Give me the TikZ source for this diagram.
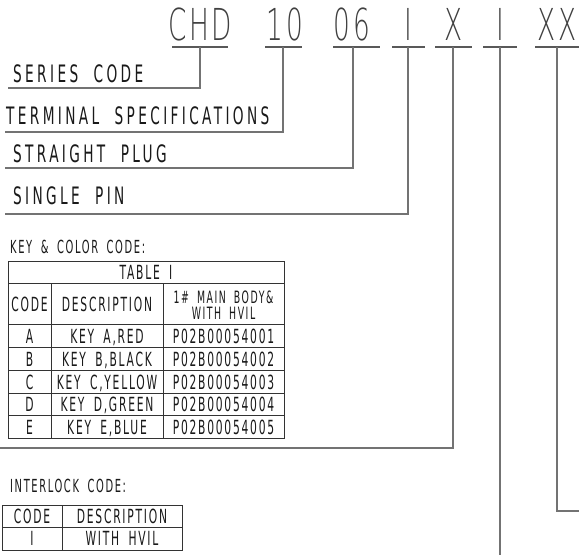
\documentclass[tikz,border=0pt]{standalone}
\usepackage{fontspec}
\newfontfamily\cadthin[FakeStretch=0.6,LetterSpace=6]{DejaVu Sans ExtraLight}
\newfontfamily\cadL[FakeStretch=0.57,LetterSpace=14,WordSpace=2]{DejaVu Sans}
\newfontfamily\cadT[FakeStretch=0.55,LetterSpace=9,WordSpace=1.8]{DejaVu Sans}
\begin{document}
\begin{tikzpicture}[x=1pt,y=-1pt,
  codetxt/.style={font=\cadthin\fontsize{44}{44}\selectfont, text=black!75, anchor=base, inner sep=0},
  lbl/.style={font=\cadL\fontsize{24}{24}\selectfont, text=black!90, anchor=base west, inner sep=0},
  cell/.style={font=\cadT\fontsize{19.5}{20}\selectfont, text=black!90, inner sep=0, anchor=base},
  hcell/.style={font=\cadT\fontsize{18}{18}\selectfont, text=black!90, inner sep=0, anchor=base west},
  leader/.style={draw=black!55, line width=1.2pt},
  uline/.style={draw=black!65, line width=1.2pt},
  grid/.style={draw=black!80, line width=0.9pt}]
\useasboundingbox (0,0) rectangle (579,555);
% code string
\node[codetxt] (c1) at (200,40) {CHD};
\node[codetxt] (c2) at (285,40) {10};
\node[codetxt] (c3) at (352,40) {06};
\node[codetxt] (c4) at (408,40) {I};
\node[codetxt] (c5) at (454,40) {X};
\node[codetxt] (c6) at (500,40) {I};
\node[codetxt] (c7) at (557,40) {XX};
% underlines
\draw[uline] (172,47) -- (228,47);
\draw[uline] (265,47) -- (302,47);
\draw[uline] (333,47) -- (380,47);
\draw[uline] (392,47) -- (425,47);
\draw[uline] (435,47) -- (472,47);
\draw[uline] (483,47) -- (517,47);
\draw[uline] (535,47) -- (579,47);
\coordinate (t1) at (200,47);
\coordinate (t2) at (283,47);
\coordinate (t3) at (353,47);
\coordinate (t4) at (408,47);
\coordinate (t5) at (453,47);
\coordinate (t6) at (500,47);
\coordinate (t7) at (557,47);
% labels
\node[lbl] (l1) at (13,82) {SERIES CODE};
\node[lbl] (l2) at (6,124) {TERMINAL SPECIFICATIONS};
\node[lbl] (l3) at (13,162) {STRAIGHT PLUG};
\node[lbl] (l4) at (13,204) {SINGLE PIN};
\coordinate (e1) at (8,88);
\coordinate (e2) at (5,132);
\coordinate (e3) at (5,168);
\coordinate (e4) at (5,214);
\coordinate (e5) at (0,448);
\coordinate (e6) at (500,555);
\coordinate (e7) at (579,511);
\draw[leader] (t1) |- (e1);
\draw[leader] (t2) |- (e2);
\draw[leader] (t3) |- (e3);
\draw[leader] (t4) |- (e4);
\draw[leader] (t5) |- (e5);
\draw[leader] (t6) -- (e6);
\draw[leader] (t7) |- (e7);
% key & color table
\node[hcell] (kc) at (10,253) {KEY \& COLOR CODE:};
\draw[grid] (8,261) rectangle (284,438);
\foreach \yy in {283,324,347,370,393,415} \draw[grid] (8,\yy) -- (284,\yy);
\draw[grid] (51,283) -- (51,438);
\draw[grid] (163,283) -- (163,438);
\node[cell] (th) at (146,279) {TABLE I};
\node[cell] (h1) at (29.5,311) {CODE};
\node[cell] (h2) at (107,311) {DESCRIPTION};
\node[cell, font=\cadT\fontsize{17}{17}\selectfont] (h3a) at (223.5,303.5) {1\# MAIN BODY\&};
\node[cell, font=\cadT\fontsize{17}{17}\selectfont] (h3b) at (223.5,319) {WITH HVIL};
\node[cell] (a1) at (29.5,343) {A};
\node[cell] (a2) at (107,343) {KEY A,RED};
\node[cell] (a3) at (223.5,343) {P02B00054001};
\node[cell] (b1) at (29.5,366) {B};
\node[cell] (b2) at (107,366) {KEY B,BLACK};
\node[cell] (b3) at (223.5,366) {P02B00054002};
\node[cell] (r1) at (29.5,389) {C};
\node[cell] (r2) at (107,389) {KEY C,YELLOW};
\node[cell] (r3) at (223.5,389) {P02B00054003};
\node[cell] (d1) at (29.5,411.5) {D};
\node[cell] (d2) at (107,411.5) {KEY D,GREEN};
\node[cell] (d3) at (223.5,411.5) {P02B00054004};
\node[cell] (f1) at (29.5,434) {E};
\node[cell] (f2) at (107,434) {KEY E,BLUE};
\node[cell] (f3) at (223.5,434) {P02B00054005};
% interlock table
\node[hcell] (ic) at (10,492) {INTERLOCK CODE:};
\draw[grid] (2,505) rectangle (182,550);
\draw[grid] (2,527) -- (182,527);
\draw[grid] (62,505) -- (62,550);
\node[cell] (i1) at (32,523) {CODE};
\node[cell] (i2) at (122,523) {DESCRIPTION};
\node[cell] (j1) at (32,545.5) {I};
\node[cell] (j2) at (122,545.5) {WITH HVIL};
\end{tikzpicture}
\end{document}
